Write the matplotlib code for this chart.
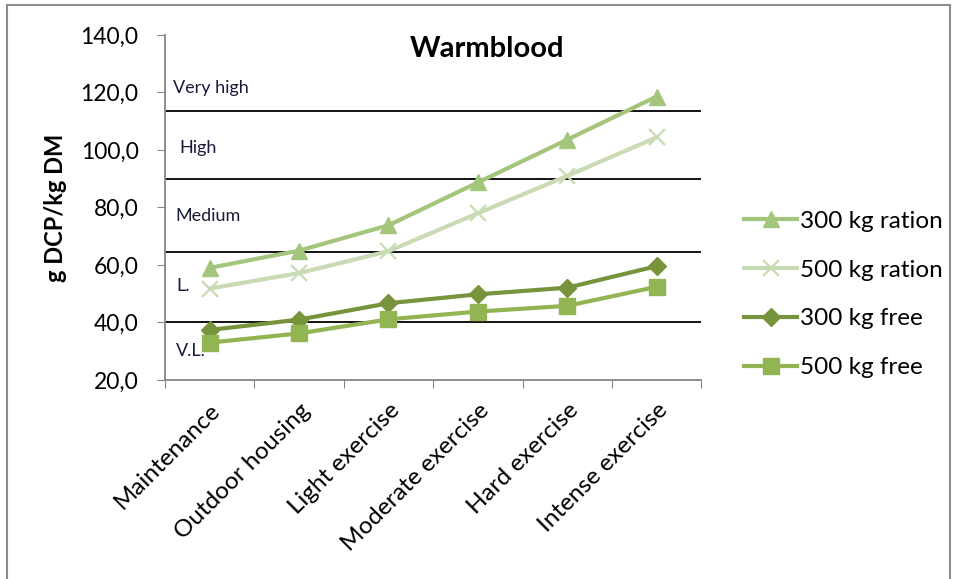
import numpy as np
import matplotlib
matplotlib.use("Agg")
import matplotlib.pyplot as plt
from matplotlib.ticker import FuncFormatter
from matplotlib.patches import Rectangle

plt.rcParams['font.family'] = ['Lato', 'DejaVu Sans']

categories = ["Maintenance", "Outdoor housing", "Light exercise",
              "Moderate exercise", "Hard exercise", "Intense exercise"]
ration_300 = [59.0, 65.0, 73.8, 88.7, 103.6, 118.6]
ration_500 = [51.8, 57.2, 64.8, 78.0, 91.0, 104.4]
free_300 = [37.4, 41.0, 46.7, 49.8, 52.1, 59.6]
free_500 = [33.0, 36.2, 41.1, 43.8, 45.8, 52.4]

band_limits = [40, 64.5, 90, 113.5]
band_names = ["Very high", "High", "Medium", "L.", "V.L."]
band_label_y = [121.6, 100.6, 77.0, 52.8, 30.2]
band_label_x = [0.015, 0.026, 0.019, 0.022, 0.020]

fig = plt.figure(figsize=(9.57, 5.79), dpi=100)
ax = fig.add_axes([0.1724, 0.3437, 0.5605, 0.5959])

x = np.arange(len(categories))

for y in band_limits:
    ax.axhline(y, color='black', lw=1.3, zorder=1)

ax.plot(x, ration_300, color='#A4C57C', lw=3, marker='^', ms=12, label='300 kg ration', zorder=3)
ax.plot(x, ration_500, color='#C9DBB5', lw=3, marker='x', ms=12, mew=1.6, label='500 kg ration', zorder=3)
ax.plot(x, free_300, color='#77933C', lw=3, marker='D', ms=9, label='300 kg free', zorder=3)
ax.plot(x, free_500, color='#93B453', lw=3, marker='s', ms=11, label='500 kg free', zorder=3)

for name, ly, lx in zip(band_names, band_label_y, band_label_x):
    ax.text(lx, ly, name, transform=ax.get_yaxis_transform(), fontsize=13,
            color='#1a1a3a', va='center', ha='left')

ax.set_xlim(-0.5, 5.5)
ax.set_ylim(20, 140)
ax.set_yticks(np.arange(20, 141, 20))
ax.yaxis.set_major_formatter(FuncFormatter(lambda v, _: f"{v:.1f}".replace('.', ',')))
ax.tick_params(axis='y', labelsize=16.5, length=6, color='#868686', direction='out', pad=13)

ax.set_xticks(np.arange(-0.5, 6, 1))
ax.set_xticklabels([])
ax.tick_params(axis='x', which='major', length=6, color='#868686', direction='out')
ax.set_xticks(x, minor=True)
ax.set_xticklabels(categories, minor=True, rotation=45, ha='right', va='top',
                   rotation_mode='anchor', fontsize=17.5)
ax.tick_params(axis='x', which='minor', length=0, pad=14)

for s in ['top', 'right']:
    ax.spines[s].set_visible(False)
for s in ['left', 'bottom']:
    ax.spines[s].set_color('#868686')
    ax.spines[s].set_linewidth(1.3)

ax.set_ylabel("g DCP/kg DM", fontsize=17, fontweight='bold')
ax.yaxis.set_label_coords(-0.182, 0.5)

ax.text(0.601, 0.997, "Warmblood", transform=ax.transAxes, fontsize=21,
        fontweight='bold', ha='center', va='top')

fig.legend(loc='upper left', bbox_to_anchor=(0.7546, 0.6735), frameon=False,
           fontsize=17.5, labelspacing=1.14, handlelength=2.2, handletextpad=0.1)

fig.patches.append(Rectangle((7 / 957, -0.01), 943 / 957, 1 - 5 / 579 + 0.01,
                             transform=fig.transFigure, fill=False,
                             edgecolor='#8c8c8c', lw=1.5))

fig.savefig("out.png", dpi=100)
